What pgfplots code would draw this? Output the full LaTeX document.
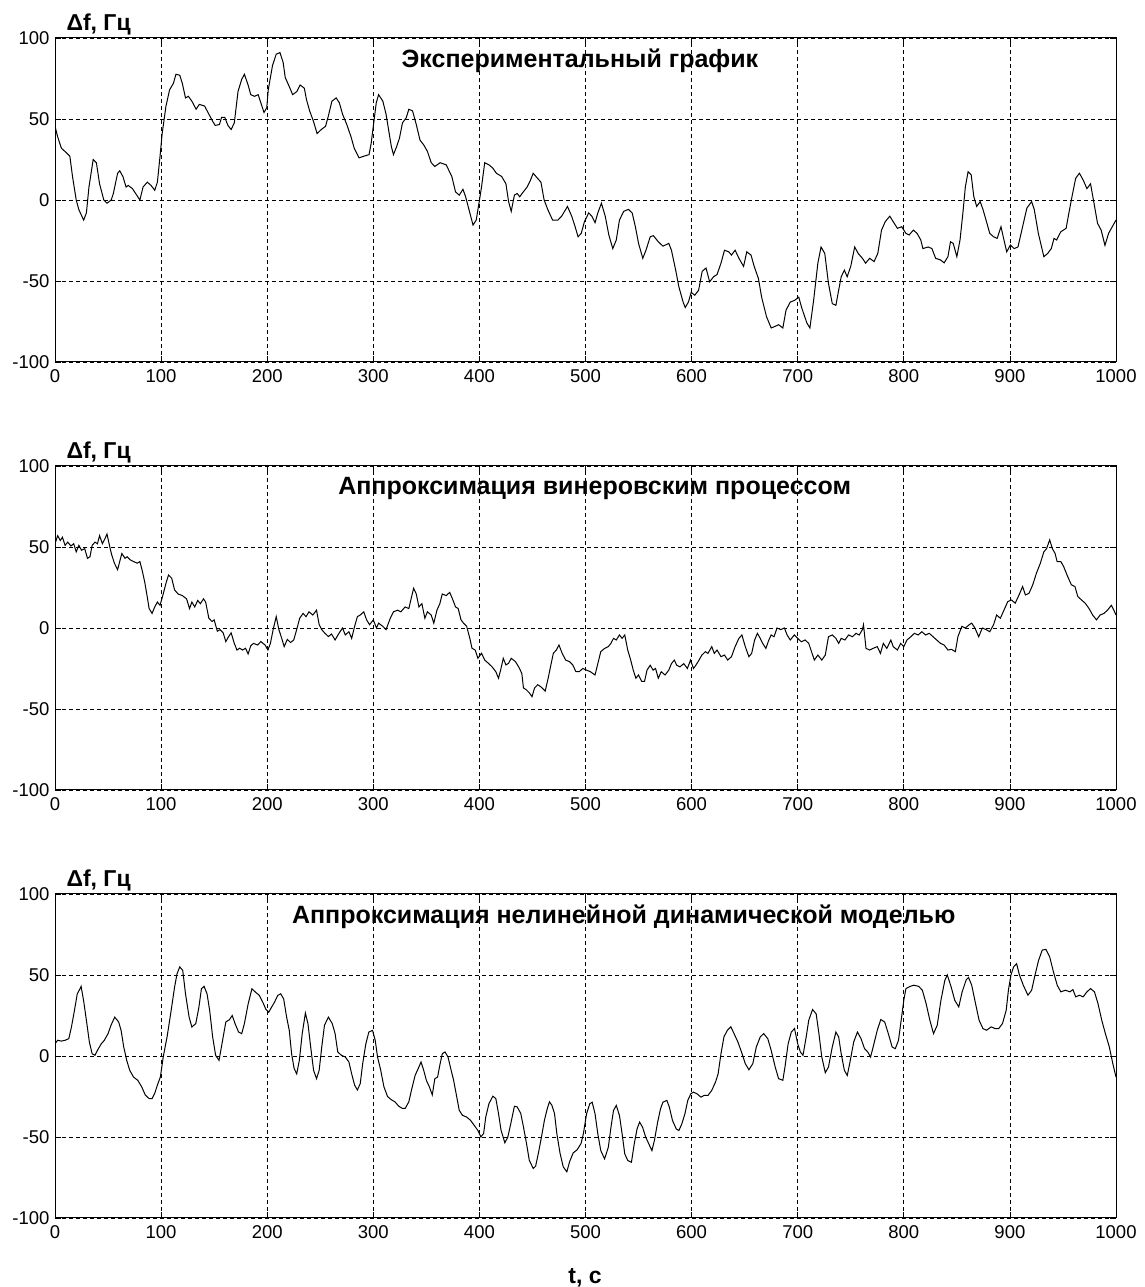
\documentclass[border=0pt]{standalone}
\usepackage{fontspec}
\setmainfont{Liberation Sans}
\usepackage{pgfplots}
\pgfplotsset{compat=1.18}
\pgfplotsset{panel/.style={
  scale only axis, width=1061pt, height=324pt,
  xmin=0,xmax=1000,ymin=-100,ymax=100,
  xtick={0,100,200,300,400,500,600,700,800,900,1000},
  xticklabels={0,100,200,300,400,500,600,700,800,900,1000},
  ytick={-100,-50,0,50,100}, yticklabels={-100,-50,0,50,100},
  grid=major,
  major grid style={black, line width=0.8pt, dash pattern=on 4pt off 3pt},
  tick align=inside, major tick length=6pt,
  every tick/.append style={black, line width=0.8pt},
  axis line style={black, line width=1pt},
  tick label style={font=\fontsize{18.5}{20}\selectfont},
  xticklabel style={yshift=-4pt},
  yticklabel style={xshift=-2pt},
  anchor=south west,
}}
\newcommand{\ttl}{\fontsize{25}{27}\selectfont\bfseries}
\newcommand{\lbl}{\fontsize{23}{25}\selectfont\bfseries}
\begin{document}
\begin{tikzpicture}
\path[use as bounding box] (0,0) rectangle (1144pt,1287pt);
% ---------------- panel 1
\begin{axis}[panel, name=ax1, at={(55pt,925pt)}]
\addplot[black, line width=1pt] coordinates {
(0,45.5) (2.5,39) (6,32) (11,29) (14,27) (16.5,14.5) (20,0) (22.5,-6) (27,-12.4) (29.6,-8) (32,8) (36,25) (39,23) (42,10) (46,0) (49,-2) (53,0) (55,4) (59,16.5) (61,18) (64,14.5) (67,8) (69,9) (73,7) (76,4) (80,0) (83,8) (87,11) (90.5,9) (94,6) (96.5,11) (99,27) (101,41) (104.6,58) (108,68) (111.6,72) (114,77.6) (117.6,77) (120,72) (123,63) (125.7,64) (129,61) (133,56) (136,59) (141,58) (145,53) (148.6,48.6) (151,46) (155,46.6) (157,51) (160,51) (163,46) (166,43.5) (169,47.6) (172.5,67) (176,74.5) (178.5,77.6) (182,71) (184.5,65) (188,64) (191.5,65) (194,60) (197,54) (199.6,57) (201,68) (205,83) (208.5,90) (212,91) (215,85) (217,75.6) (220.8,70) (224,65) (228,67) (231,71) (235,69) (237,62) (240,55) (243.6,48.6) (247,41) (251,43.5) (255,45.5) (257.7,52) (261,61) (265,63) (268,60) (271,53) (275,46.6) (279,39) (282,32) (286.6,26) (291,27) (296,28) (298,35) (300,45.5) (302.8,60) (305,65) (309,61) (312,53) (315,41) (317,33) (319,28) (322,33) (324.6,38) (327.5,47.6) (331,50.7) (333.5,56) (337,55) (340.5,46.6) (344,37) (347.5,34) (351,30) (354.6,23) (358,20.7) (363,23) (368.7,21.7) (374,14.5) (377.5,5) (381,3) (384.5,6.6) (387,2) (391,-8) (394,-15.5) (397,-12.4) (399.6,-2) (402,8) (405,23) (409,21.7) (412.6,19.7) (416,16.5) (421,14.5) (425,10) (427.5,-1) (430,-7) (433,3) (435.6,4) (438,2) (440.8,4.5) (445,8) (448,12) (450.7,16.5) (454.6,13.5) (458,11) (461,0) (464.5,-6) (469,-12.4) (474,-12.4) (477.5,-10) (483,-4) (487,-10) (490,-16) (493,-22.7) (496,-20.6) (499,-13.4) (503,-8) (506,-10) (509,-14) (511.6,-8) (515,-2) (518.6,-10) (522,-21.6) (525.7,-30) (529,-24.7) (532,-12.4) (536,-7) (540.5,-5.8) (544,-8) (547,-16.5) (550,-26.8) (554,-36) (557,-31) (561,-22.7) (564,-22) (568.6,-25.8) (573,-28.5) (578.5,-26.8) (581,-31) (585,-43.3) (588,-53.6) (592,-63) (594,-66.4) (597,-63) (599.6,-57) (603,-58.8) (606.6,-55.7) (610,-44) (613.6,-42) (617,-50.5) (620.7,-47.4) (624,-46) (627.7,-39) (631,-31) (635,-32) (637.6,-34) (641,-31) (644.6,-36) (649,-41) (652,-32) (656,-34) (659,-41) (663,-48.5) (666,-60) (670.6,-72) (675,-79) (678.7,-78) (682,-77) (686,-79) (689,-68) (693,-63) (697,-62) (701,-60) (704,-67) (708.7,-76) (711.5,-79) (715,-62) (719,-39) (722,-29) (725.5,-33) (729,-51.5) (732.6,-64) (736,-65) (738.6,-55.7) (741,-47.4) (744,-43.3) (746.6,-47.4) (750,-41) (753.7,-29) (757,-33) (761,-36) (764,-39) (767.8,-36) (772,-38) (775.5,-33) (779,-18.6) (782.5,-13.4) (786.8,-10) (790,-13.4) (794,-17.5) (798,-16.5) (802,-20.6) (805,-21.6) (809,-18.6) (812.5,-20.6) (816,-24.7) (818,-30) (823,-29) (826.5,-30) (830,-36) (834.6,-37) (838,-38.8) (841.6,-35) (844,-25.8) (846.6,-26.8) (850,-35) (853,-24.7) (855.7,-8) (858,8) (860.6,17.5) (863.5,15.5) (866,2) (868.7,-4) (872,-1) (874.7,-6) (877.5,-12.4) (881,-20.6) (884.6,-22.7) (888,-23.7) (891.6,-16.5) (894.4,-24.7) (897,-32) (900.4,-27.8) (904,-30) (907.6,-29) (912.7,-14.4) (916,-5) (920.5,-1) (923,-6) (926.8,-20.6) (932,-35) (935.6,-33) (939,-30) (941.6,-23.7) (944,-24.7) (948,-19.6) (953,-17.5) (955.6,-8) (958.5,2) (962,13.4) (965.5,16.5) (969,12.4) (972.6,7) (976,10) (979,-1) (982.6,-14.4) (986,-18.6) (989.6,-28) (993,-20.6) (996.5,-16.5) (1000,-12.4)
};
\node[anchor=base, font=\ttl] at (axis cs:494.8,81.7) {Экспериментальный график};
\end{axis}
% ---------------- panel 2
\begin{axis}[panel, name=ax2, at={(55pt,497pt)}]
\addplot[black, line width=1pt] coordinates {
(0,52) (2.5,57) (5,54) (7,56) (9.5,51) (12,53) (15,50.6) (17.6,52) (20,47) (22.5,51) (25,48) (28,49) (30.6,43) (33,44) (35,51) (37.7,53) (40,52) (42,57) (44.7,52) (47,55) (49,58) (52,49) (53.5,45) (56,40) (59,36) (61,41) (63,46) (66,43) (68,44) (71,42) (74,41) (77.5,40) (80,41) (82,36) (84.5,28.6) (87,19) (88.7,12) (91.5,9) (94,13) (96.5,16) (99,14) (102,21) (104.6,27.6) (107,32.7) (110,30.7) (112.7,23.5) (116,21) (120,20) (124,18) (126.8,12) (129,16) (131.7,13) (134.5,17) (137,15) (140,18) (142,16) (145,6) (148,4) (150,5) (153,-2) (155.6,-1) (158.5,-3) (161,-8.4) (163,-6) (166,-3) (169,-9.5) (171.5,-13.6) (174,-12.5) (176.8,-13.6) (179.6,-12.5) (182,-16) (184.5,-11) (187,-9.5) (191,-10.5) (194,-8.4) (198,-10.5) (200.7,-13.6) (203,-9.5) (205.6,-1) (208.5,7) (211,-1) (213.7,-6.4) (216,-11.5) (219,-7) (222,-9) (225,-7.4) (227.8,-1) (230.6,6) (233.8,9) (236.6,7) (239.4,10) (243,8) (246.5,11) (249,2) (251.4,-1) (254,-3) (257.7,-5.3) (260.6,-3.7) (264,-7.4) (267.6,-3.3) (271,0) (273.6,-4.3) (277,-2.3) (279.6,-6.4) (282.4,1) (285,7) (287.7,8) (291,10) (293.7,5) (296.5,2) (300,5) (303,0) (305,3) (309,1) (312,-1) (316,6) (319,10) (323,11) (326,10) (330,13) (333.5,12) (336,19) (338,24.5) (340.5,21) (343,13) (345.8,15) (348.6,6) (351,10) (354.6,8) (357,3) (360,11) (362.7,15) (365,21) (368.7,20) (372,22) (374.6,18) (377.5,13) (380,12) (382.7,5) (385,3) (388,1) (391,-6.4) (393,-12.5) (396,-13.6) (398.6,-18.7) (402,-15.6) (405,-19.8) (408.5,-21.8) (412,-24) (415.5,-27) (418,-31) (420,-26) (422.5,-18.7) (425,-22.8) (427.5,-21.8) (430,-18.7) (434,-20.8) (437,-24) (440,-28) (441.5,-37) (444,-38) (447,-40) (449.6,-42.4) (452,-37) (455,-35) (458.5,-36.6) (462,-39) (464.8,-31) (467,-24) (469.7,-15.6) (472.5,-13.6) (475,-10.5) (478,-15.6) (481.3,-19.8) (485,-20.8) (488,-22.8) (491,-27) (494,-27) (497.5,-25) (501,-26) (504.6,-27) (509,-29) (511.6,-22) (514.4,-14.6) (518,-12.6) (521.5,-11.5) (524,-9.5) (526.4,-6.4) (529,-7.4) (532,-4.3) (534.5,-6.4) (537,-4.3) (539.8,-13.6) (542.6,-19.8) (545,-26) (547.5,-31) (550,-29) (553,-33) (555.6,-33) (558,-26) (561,-23) (563.7,-26) (566,-25) (568.6,-31) (571.4,-27) (575,-29) (578.5,-26) (581,-22) (583.7,-19.8) (586,-23) (589,-24) (592.6,-22) (596,-25) (599,-19.8) (601.8,-25) (604,-23) (607,-19.8) (609.7,-16.7) (613,-14.6) (615.4,-15.7) (619,-11.5) (621.4,-15.7) (624,-13.6) (627.7,-17.7) (631,-16.7) (634,-19.8) (637.6,-17.7) (641,-11.5) (644.6,-6.4) (647.4,-4.3) (650.6,-11.5) (654,-17.7) (656.6,-15.7) (659.4,-7.4) (662,-3.3) (664.7,-6.4) (667,-9.5) (670,-12.6) (672.8,-7.4) (675,-4.3) (677.7,-5.4) (680.5,0) (684,-1) (687.5,0) (690,-4.3) (693,-7.4) (696.8,-4.3) (700,-6.4) (703.4,-8.5) (707,-7.4) (710.4,-9.5) (713,-14.6) (715.7,-19.8) (719,-16.7) (722.7,-19.8) (726,-16.7) (729,-5.4) (732.6,-4.3) (736,-6.4) (738.6,-9.5) (741,-6.4) (744.5,-7.4) (748,-4.3) (751.6,-5.4) (755,-3.3) (758,-4.3) (761,-1) (762,2) (764.4,-12.6) (767.8,-13.6) (771,-12.6) (775,-11.5) (778,-15.7) (780.7,-9.5) (784,-12.6) (787.8,-7.4) (790,-11.5) (794,-13.6) (797,-9.5) (800,-11.5) (803,-7.4) (806.6,-5.4) (810,-3.3) (813.5,-4.3) (817,-2.3) (820.5,-4.3) (824,-3.3) (827.6,-5.4) (831,-7.4) (834.6,-9.5) (838,-10.5) (841.6,-13.6) (845,-13.2) (848.6,-14.6) (851,-5.4) (854.7,1) (858,0) (861.6,2) (864,3) (867,0) (870.6,-5.4) (874,0) (877.5,-1) (881,-2.3) (884.6,2) (887.5,8) (891,6) (894.4,11) (898,16.3) (901.5,17.3) (905,15.3) (908.6,20.4) (912,25.6) (914.6,20.4) (918,21.4) (921.5,26.6) (925,33.8) (928.7,40) (932,47) (934.6,49) (937.5,54.4) (940,49) (942.6,46) (944.5,41) (948,41) (950.6,38) (954.4,31.8) (958,26.6) (961.3,25.6) (964,19.4) (967.5,17.3) (971,15.3) (974.6,12) (978,8) (981.6,5) (985,8) (988.6,9) (992,11) (995.6,14) (998,11) (1000,8)
};
\node[anchor=base, font=\ttl] at (axis cs:508.6,82.1) {Аппроксимация винеровским процессом};
\end{axis}
% ---------------- panel 3
\begin{axis}[panel, name=ax3, at={(55pt,69pt)}]
\addplot[black, line width=1pt] coordinates {
(0,7.6) (2.5,9.7) (6,9.2) (9.5,9.7) (13,10.7) (15.5,17.9) (18.3,28) (21,38.4) (23.6,41.5) (24.6,43) (27,34) (29.6,22) (32.4,8.6) (35,1.4) (37.7,0.4) (40,3.5) (43.7,7.6) (46.5,9.7) (50,13.8) (52.8,19) (56.3,24) (60,21) (62.3,15.8) (64.8,5.5) (67.6,-2.7) (70.4,-8.8) (74,-13) (78,-15) (81.7,-19) (85,-24) (88.7,-26.3) (91.5,-26.3) (94,-23) (96.5,-18) (99.3,-13) (102,-0.6) (105.6,11.7) (109,26) (112.7,42.5) (115,50.7) (117.6,55) (120.4,52.8) (123,38.4) (126.4,24) (129,17.9) (132.7,20) (135.6,30) (138,41.5) (140.5,43) (143.3,38.4) (145.8,28) (148.6,11.7) (151.4,0.4) (154.6,-2.7) (157.4,7.6) (161,21) (164.4,22.4) (167,25) (169.7,20) (173,14.8) (176,13.8) (178.5,20) (182,32) (185.6,41.5) (189,39.4) (192.6,37.4) (196,33) (198.6,29) (201.4,27) (204,30) (206.7,33) (210,37.4) (212.7,38.4) (215.5,35.3) (218.3,24) (220.8,15.8) (223,1.4) (225.4,-7.8) (227.8,-11) (230.3,-2.7) (233,13.8) (236,26.5) (238.4,20) (241,5.5) (243.7,-8.8) (246.5,-14) (249,-8.8) (251.4,5.5) (254,19) (257.7,24) (261.3,20) (264,13.8) (266.5,2.5) (270,0.4) (273.6,-0.6) (277,-3.7) (279.6,-11) (282.4,-18) (285,-21) (287.7,-17) (290,-4.7) (293,7.6) (295.8,14.8) (299.3,15.8) (301.8,9.7) (304,-0.6) (307,-8.8) (310,-19) (313.4,-25) (317,-27) (320.4,-28.3) (324,-31) (327.5,-32.4) (330,-32.4) (333.5,-28.3) (336,-21) (339.4,-12) (342.3,-7.8) (345,-3.7) (347.5,-8.8) (350,-15) (352.8,-19) (355.6,-24) (358,-14) (360.6,-13) (362.7,-5.7) (365,1.4) (367.6,2.5) (370.4,-0.6) (373,-7.8) (375.7,-15) (378,-23) (381,-33.5) (384,-36.6) (387.7,-37.6) (391.5,-39.6) (395,-42.7) (398.6,-46) (401.4,-50) (404,-47.8) (406,-37.6) (409,-29.4) (412.7,-24.8) (415.5,-26.3) (418,-35.5) (420.4,-45.8) (424,-53.6) (426.8,-50) (429.6,-41.7) (433,-31) (435.6,-31.4) (439,-35.5) (441.5,-43.7) (444.4,-54) (447,-64.3) (450.7,-69.4) (453,-68) (455.6,-60) (458.5,-50) (461.3,-39.6) (464,-32.4) (466,-28.3) (468.3,-30.4) (470.8,-35.5) (473,-48) (476,-60) (479,-68.4) (482.4,-71.5) (485,-65.3) (488.4,-59.8) (492,-58) (495.8,-54) (498,-48) (501,-35.7) (504,-29.5) (506.3,-28.5) (509,-35.7) (511.6,-48) (514.4,-58.4) (518,-63.5) (521.5,-56.3) (524,-44) (526.4,-33.6) (529,-30.5) (532,-36.7) (534.5,-48) (537,-60.4) (539.8,-64.5) (543.3,-65.6) (546,-54) (548.6,-45) (551,-40.8) (553.8,-44) (556.7,-50) (559.5,-54) (562.6,-58.4) (565,-52) (568,-40.8) (570.7,-32.6) (573,-28.5) (576.7,-27.4) (579,-31.5) (582,-39.8) (585.5,-45) (588,-46) (590.8,-41.9) (593.7,-35.7) (596.4,-27.4) (599.3,-23.3) (601.8,-22.3) (605,-23.3) (608.8,-25.4) (612,-24.3) (615.5,-24.3) (619,-21.2) (622.6,-16) (625,-11) (627.7,1.4) (630.5,11.8) (633.7,15.9) (637,18) (640,13.8) (643.6,8.7) (647,2.5) (650.6,-4.7) (654,-8.5) (657.7,-4.7) (661,5.6) (664.7,11.8) (668,13.8) (671.8,10.7) (675,3.5) (678.8,-6.8) (682,-14) (686,-15) (688,-6.8) (691,7.6) (694,14.8) (697,16.9) (700,7.6) (702.5,2.5) (705,0.4) (708,11.8) (710.4,22) (714,28.7) (717.4,26) (720,13.8) (722.7,-0.6) (726,-10.3) (729,-6.8) (732.6,5.6) (736,14.8) (738.6,11.8) (741,1.4) (744,-8.9) (746.7,-12) (749,-4.7) (752.8,8.7) (756.3,14.8) (759.7,10.7) (763,4.5) (766,2.5) (768.7,-0.6) (771.5,6.6) (775,15.9) (778.3,22.5) (782,21) (785.4,13.8) (789,5.6) (792,4.5) (795,9.7) (797.5,22) (800,34.4) (802,41.6) (806,43) (809.5,43.7) (814,43) (817.5,40.6) (821,32.4) (824.6,22) (828,13.8) (831.5,19) (835,34.4) (838.7,46.8) (841,50) (844.6,42.7) (848,34.4) (851.8,30.3) (855,39.6) (858.8,47) (861,48.5) (864,43.7) (867.6,32.4) (871,22) (874.6,16.9) (878,15.9) (882.4,18) (886,16.9) (889.4,16.9) (893,20) (896.5,28.2) (898.6,40.6) (901,50) (903.5,55) (906.3,57) (909,50) (912.6,43.7) (917,37.5) (920.5,40.6) (923.3,48.9) (927,59) (930.5,65.4) (934,65.8) (937.5,61.2) (941,52) (944.6,43.7) (948,39.6) (952.4,40.6) (956.6,39.6) (959.4,41) (962,36.5) (965.6,37.5) (969,36.5) (972.6,39.6) (976,41.6) (979.7,39.6) (983,32.4) (986.6,22) (990,13.8) (993.7,5.6) (997,-4.7) (1000,-13)
};
\node[anchor=base, font=\ttl] at (axis cs:536,81.7) {Аппроксимация нелинейной динамической моделью};
\end{axis}
\node[anchor=base west, font=\lbl] at ([xshift=8pt,yshift=7pt]ax1.north west) {Δf, Гц};
\node[anchor=base west, font=\lbl] at ([xshift=8pt,yshift=7pt]ax2.north west) {Δf, Гц};
\node[anchor=base west, font=\lbl] at ([xshift=8pt,yshift=7pt]ax3.north west) {Δf, Гц};
\node[anchor=base, font=\lbl] at ([xshift=-0.5pt,yshift=-65pt]ax3.south) {t, с};
\end{tikzpicture}
\end{document}
